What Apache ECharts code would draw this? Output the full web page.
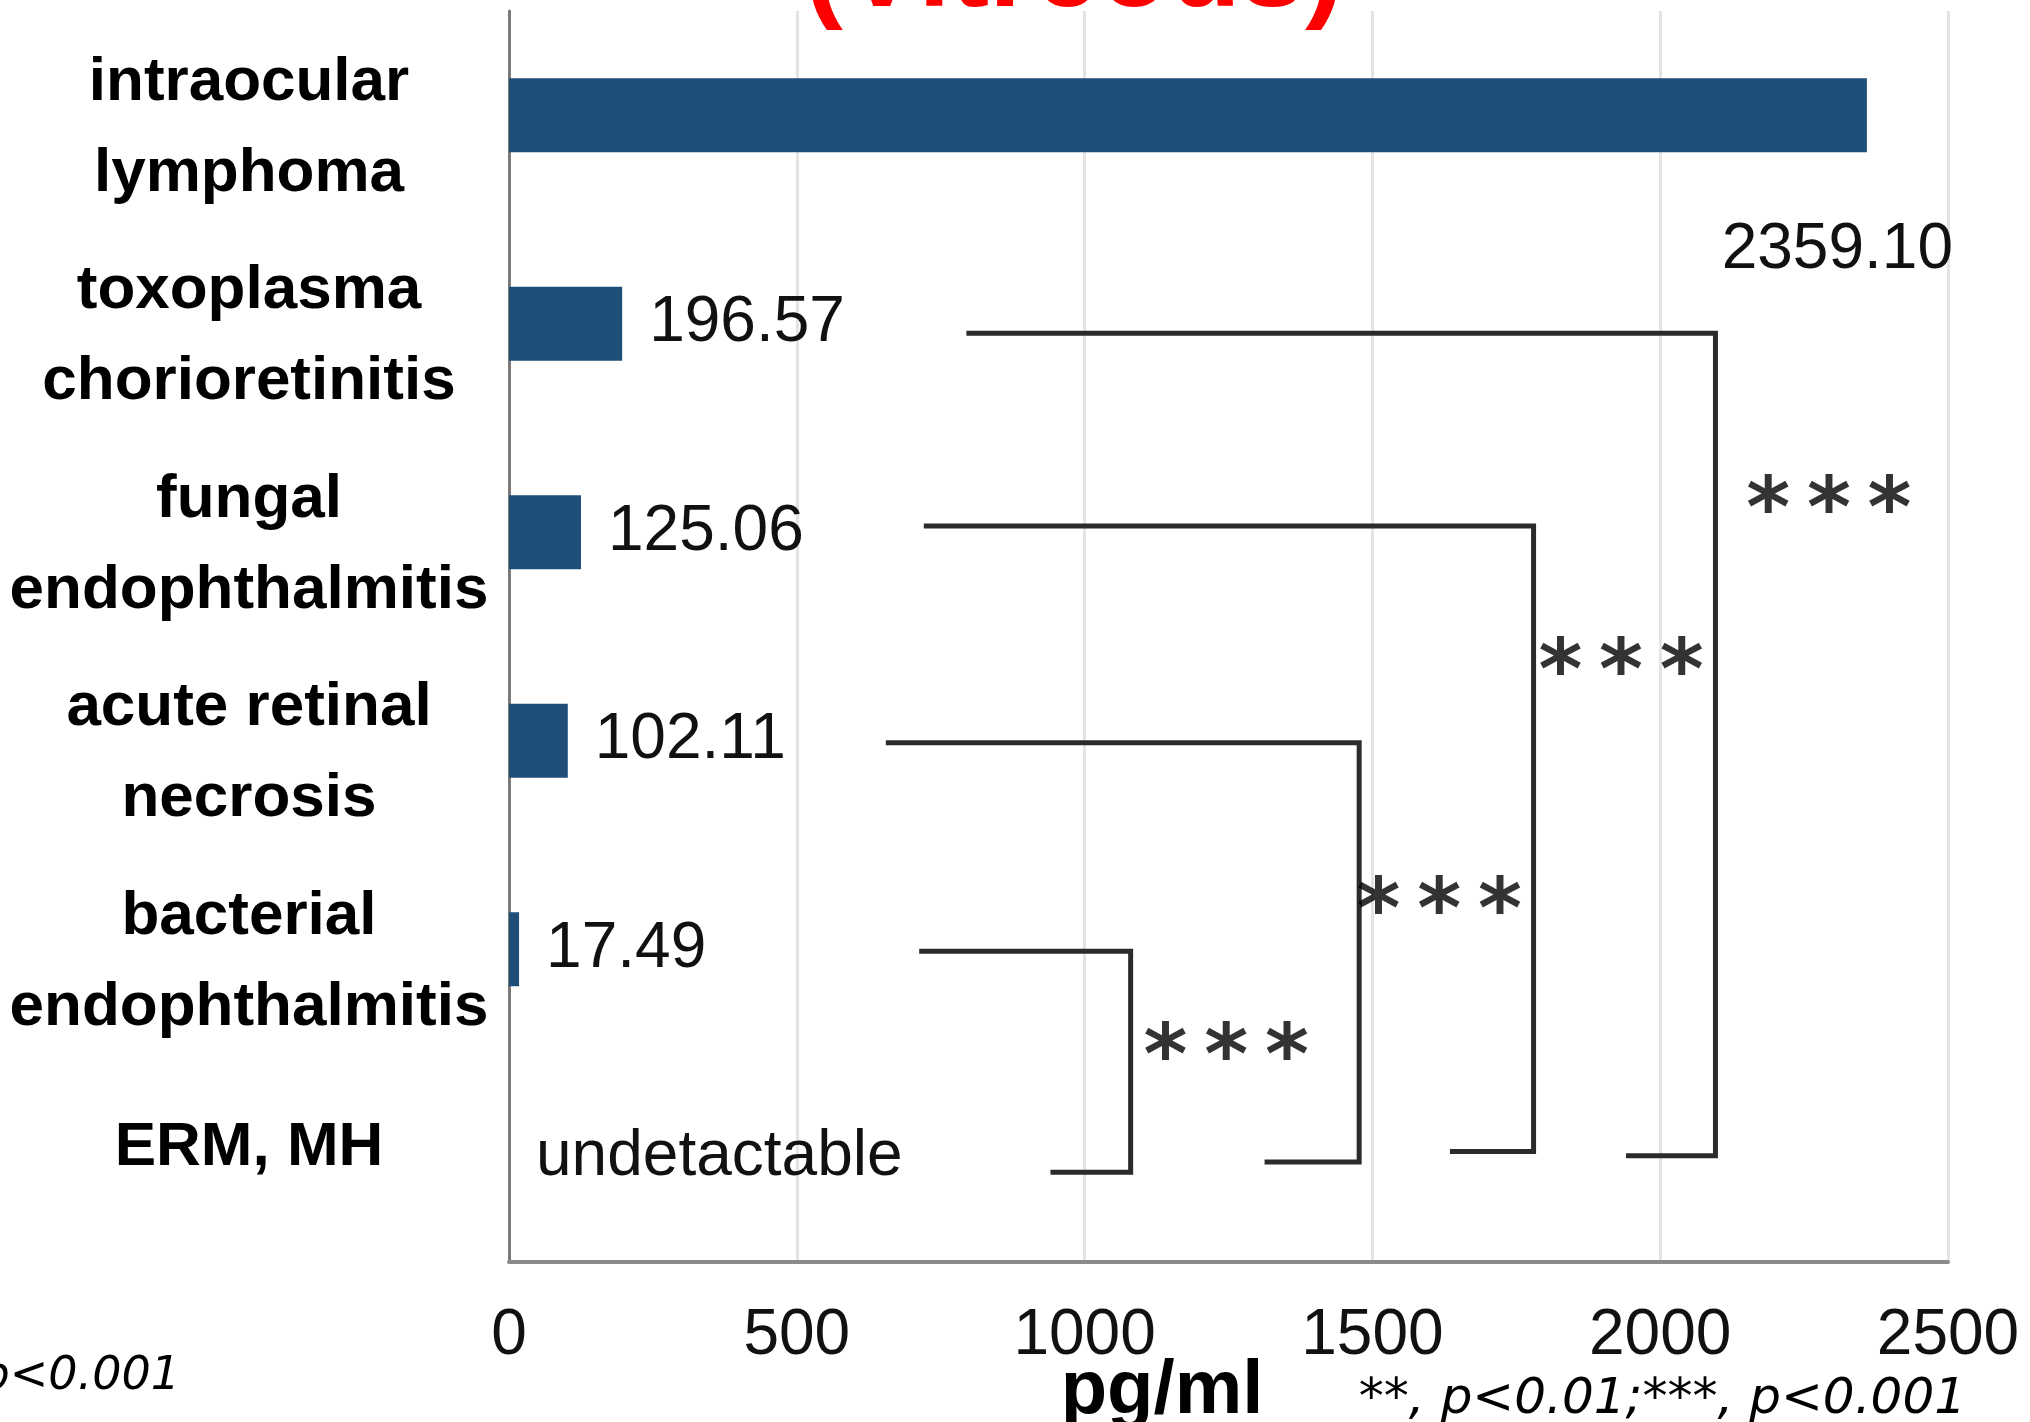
<!DOCTYPE html>
<html><head><meta charset="utf-8">
<script src="https://cdn.jsdelivr.net/npm/echarts@6/dist/echarts.min.js"></script>
<style>html,body{margin:0;padding:0;background:#fff}#c{width:2030px;height:1422px}</style>
</head><body><div id="c"></div>
<script>
// ---- data ----
const categories = ['intraocular\nlymphoma', 'toxoplasma\nchorioretinitis', 'fungal\nendophthalmitis', 'acute retinal\nnecrosis', 'bacterial\nendophthalmitis', 'ERM, MH'];
const values = [2359.10, 196.57, 125.06, 102.11, 17.49, 0];
const valueLabels = ['2359.10', '196.57', '125.06', '102.11', '17.49', 'undetactable'];
const xTickMin = 0, xTickMax = 2500, xTickStep = 500;
// significance brackets: [value, category index] corners
const bracketA = [[799, 1.045], [2096, 1.045], [2096, 4.99], [1945, 4.99]];
const bracketB = [[725, 1.97], [1780, 1.97], [1780, 4.97], [1639, 4.97]];
const bracketC = [[659, 3.01], [1477, 3.01], [1477, 5.02], [1317, 5.02]];
const bracketD = [[717, 4.01], [1080, 4.01], [1080, 5.07], [945, 5.07]];
const sigPoints = [[2293, 1.81], [1932, 2.585], [1616, 3.73], [1246, 4.43]];
const sigLabels = ['*\u2009*\u2009*', '*\u2009*\u2009*', '*\u2009*\u2009*', '*\u2009*\u2009*'];

const FONT = "'Liberation Sans', Arial, sans-serif";
const chart = echarts.init(document.getElementById('c'), null, {renderer: 'canvas'});

const barData = values.map((v, i) => {
  const item = {value: v};
  if (i === 0) {
    item.label = {position: [1444, 172], align: 'right', verticalAlign: 'middle'};
  }
  return item;
});

const bracketSeries = [bracketA, bracketB, bracketC, bracketD].map(b => ({
  type: 'line', xAxisIndex: 0, yAxisIndex: 1, data: b, symbol: 'none', silent: true, z: 5,
  lineStyle: {color: '#2b2b2b', width: 5, cap: 'square', join: 'miter'}
}));

const option = {
  animation: false,
  backgroundColor: '#ffffff',
  grid: {left: 509, right: 82, top: 11, bottom: 160, containLabel: false, outerBoundsMode: 'none'},
  xAxis: {
    type: 'value', min: xTickMin, max: xTickMax, interval: xTickStep,
    axisLine: {show: true, onZero: false, lineStyle: {color: '#8a8a8a', width: 4}},
    axisTick: {show: false},
    splitLine: {show: true, lineStyle: {color: '#e4e4e4', width: 3}},
    axisLabel: {fontSize: 64, color: '#111', fontFamily: FONT, margin: 42, formatter: v => String(v)}
  },
  yAxis: [{
    type: 'category', inverse: true, data: categories,
    axisTick: {show: false},
    axisLine: {show: true, lineStyle: {color: '#7a7a7a', width: 3}},
    axisLabel: {
      fontSize: 62, fontWeight: 'bold', color: '#000', fontFamily: FONT,
      lineHeight: 91, align: 'center', margin: 260, padding: [26, 0, 0, 0],
      formatter: v => v === 'ERM, MH' ? '{s|' + v + '}' : v,
      rich: {s: {fontSize: 62, fontWeight: 'bold', fontFamily: FONT, color: '#000', padding: [0, 0, 46, 0]}}
    }
  }, {
    type: 'value', min: -0.5, max: 5.5, inverse: true, show: false
  }],
  series: [{
    type: 'bar', data: barData, barWidth: 74, silent: true,
    itemStyle: {color: '#1F4E79'},
    label: {
      show: true, position: 'right', distance: 27, fontSize: 64, color: '#111', fontFamily: FONT,
      formatter: p => valueLabels[p.dataIndex]
    }
  }].concat(bracketSeries).concat([{
    type: 'scatter', xAxisIndex: 0, yAxisIndex: 1, data: sigPoints, symbolSize: 1, silent: true, z: 6,
    itemStyle: {color: 'rgba(0,0,0,0)'},
    label: {
      show: true, position: 'inside', fontSize: 84, color: '#000', offset: [0, 22],
      fontFamily: "'DejaVu Sans', sans-serif", fontWeight: 'bold',
      formatter: p => sigLabels[p.dataIndex]
    }
  }]),
  graphic: [
    {type: 'text', x: 1074, y: -26, silent: true,
      style: {text: '(Vitreous)', fill: '#ff0000', font: "bold 116px 'Liberation Sans', Arial, sans-serif", align: 'center', verticalAlign: 'middle'}},
    {type: 'text', x: 1162, y: 1392, silent: true,
      style: {text: 'pg/ml', fill: '#000', font: "bold 76px 'Liberation Sans', Arial, sans-serif", align: 'center', verticalAlign: 'middle'}},
    {type: 'text', x: 1966, y: 1400, silent: true,
      style: {text: '**, p<0.01;***, p<0.001', fill: '#000', font: "italic 50px 'DejaVu Sans', sans-serif", align: 'right', verticalAlign: 'middle'}},
    {type: 'text', x: 180, y: 1377, silent: true,
      style: {text: 'p<0.001', fill: '#000', font: "italic 46px 'DejaVu Sans', sans-serif", align: 'right', verticalAlign: 'middle'}}
  ]
};
chart.setOption(option);
</script>
</body></html>
